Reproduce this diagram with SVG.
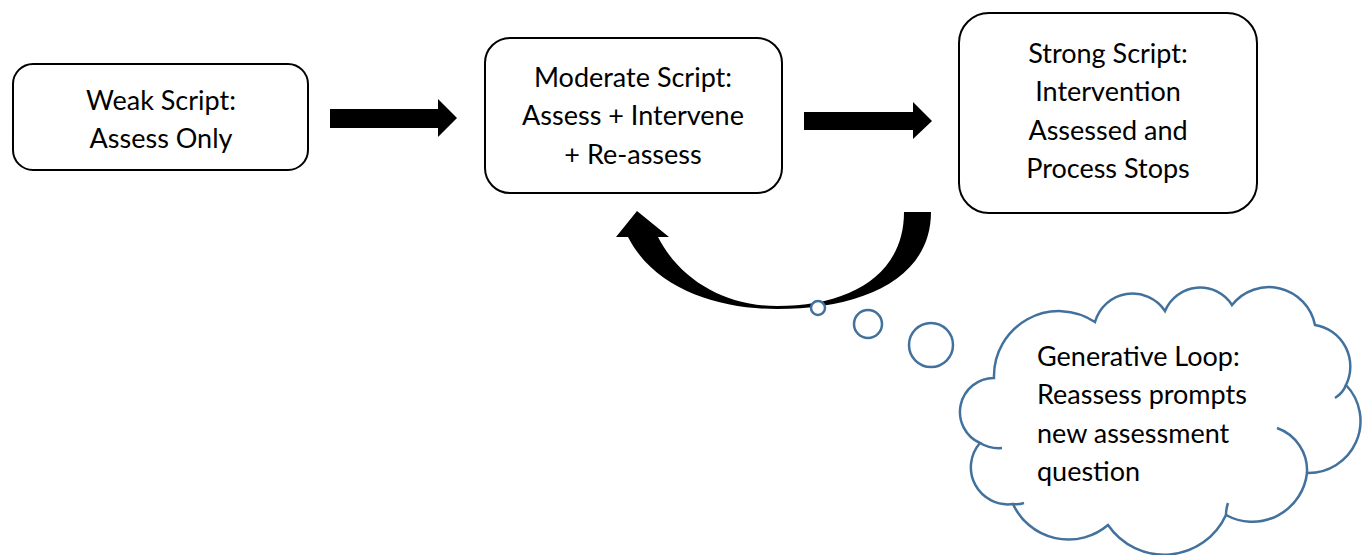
<svg xmlns="http://www.w3.org/2000/svg" width="1369" height="555" viewBox="0 0 1369 555">
<style>
.box{fill:#fff;stroke:#000;stroke-width:2}
.t{font-family:Lato,"Liberation Sans",sans-serif;font-size:27px;fill:#000}
.c{text-anchor:middle}
.cl{fill:#fff;stroke:#41719c;stroke-width:2.5}
.tail{fill:none;stroke:#41719c;stroke-width:2.5}
</style>
<rect width="1369" height="555" fill="#fff"/>
<g id="connectors">
<polygon points="330,109 438,109 438,99 457,118 438,137 438,128 330,128" fill="#000"/>
<polygon points="804,112 913,112 913,102 932,121 913,139 913,130 804,130" fill="#000"/>
<path d="M904,212 L931,212 C931,280 860,309 777,309 C720,309 655,290 628,237 L616,237 L637,211 L669,237 L658,237 C680,280 725,306 777,306 C850,306 904,275 904,212 Z" fill="#000"/>
</g>
<g id="weak">
<rect class="box" x="13" y="64" width="295" height="106" rx="20"/>
<text class="t c" x="161" y="110">Weak Script:</text>
<text class="t c" x="161" y="148">Assess Only</text>
</g>
<g id="moderate">
<rect class="box" x="485" y="38" width="297" height="155" rx="25"/>
<text class="t c" x="633" y="87">Moderate Script:</text>
<text class="t c" x="633" y="125">Assess + Intervene</text>
<text class="t c" x="633" y="164">+ Re-assess</text>
</g>
<g id="strong">
<rect class="box" x="959" y="13" width="298" height="200" rx="30"/>
<text class="t c" x="1108" y="63">Strong Script:</text>
<text class="t c" x="1108" y="101">Intervention</text>
<text class="t c" x="1108" y="140">Assessed and</text>
<text class="t c" x="1108" y="178">Process Stops</text>
</g>
<g id="cloud">
<circle class="cl" cx="818" cy="308" r="7"/>
<circle class="cl" cx="868" cy="324" r="14"/>
<circle class="cl" cx="931" cy="345" r="22"/>
<path class="cl" d="M1013,504 A37,37 0 0 1 980,443 A34,34 0 0 1 994,378 A65,65 0 0 1 1095,322 A39,39 0 0 1 1165,311 A38,38 0 0 1 1232,305 A47,47 0 0 1 1315,325 A42,42 0 0 1 1346,385 A52,52 0 0 1 1307,473 A55,55 0 0 1 1226,515 A68,68 0 0 1 1108,525 A61,61 0 0 1 1013,504 Z"/>
<path class="tail" d="M980,443 Q990,449 1002,448 M1013,504 Q1018,505 1024,503 M1277,428 A45,45 0 0 1 1307,473 M1346,385 Q1343,393 1335,398 M1226,515 Q1226,509 1228,503"/>
<text class="t" x="1037" y="366">Generative Loop:</text>
<text class="t" x="1037" y="404">Reassess prompts</text>
<text class="t" x="1037" y="443">new assessment</text>
<text class="t" x="1037" y="481">question</text>
</g>
</svg>
